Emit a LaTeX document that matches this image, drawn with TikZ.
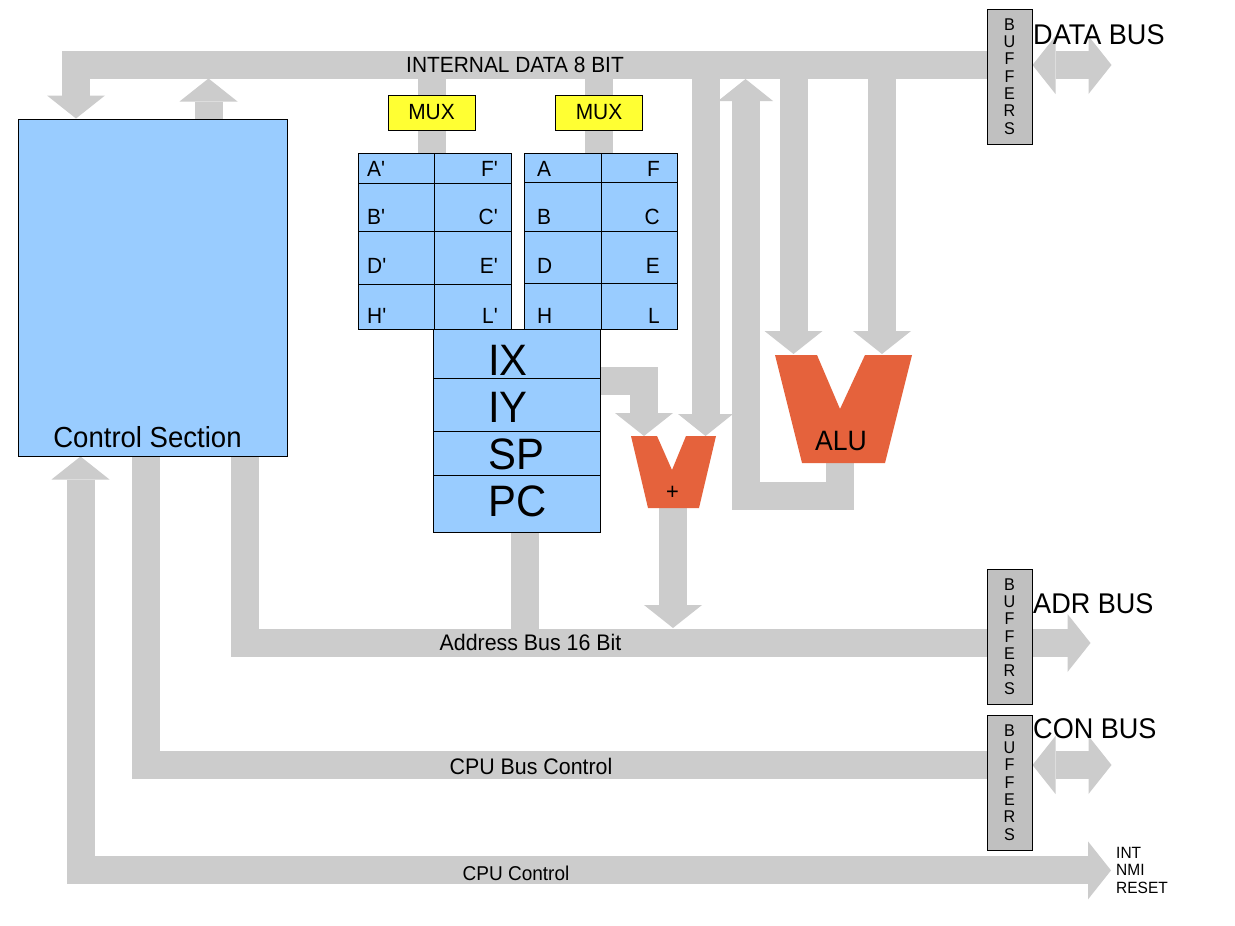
\documentclass[tikz,border=0pt]{standalone}
\usepackage{fontspec}
\newfontfamily\arial{Liberation Sans}[FakeStretch=0.95]
\usetikzlibrary{arrows.meta,positioning,backgrounds}

\definecolor{pipegray}{HTML}{CCCCCC}
\definecolor{regblue}{HTML}{99CCFF}
\definecolor{muxyellow}{HTML}{FFFF33}
\definecolor{unitorange}{HTML}{E5623C}
\definecolor{bufgray}{HTML}{C0C0C0}

\newcommand{\fsz}[2]{\arial\fontsize{#1}{#2}\selectfont}

\begin{document}
\begin{tikzpicture}[
  x=1pt, y=-1pt,
  fat/.tip={Triangle[length=23pt, width=58pt, line width=0pt]},
  fatn/.tip={Triangle[length=22pt, width=55pt, line width=0pt]},
  pipe/.style={draw=pipegray, line width=28pt},
  cell/.style={draw, fill=regblue, line width=1pt, inner sep=0pt},
  reglbl/.style={font=\fsz{22}{22}, inner sep=0pt},
  bigreg/.style={font=\fsz{44}{44}, inner sep=0pt, anchor=base west},
  mux/.style={draw, fill=muxyellow, line width=1pt, minimum width=87,
              minimum height=35, inner sep=0pt, font=\fsz{22}{22}},
  buffer/.style={draw, fill=bufgray, line width=1pt, minimum width=45,
                 minimum height=135, inner sep=0pt, align=center,
                 font=\fsz{17}{17.3}},
  buslbl/.style={font=\fsz{28.5}{28.5}, inner sep=0pt, anchor=base west},
  pipelbl/.style={inner sep=0pt},
  unit/.style={fill=unitorange},
]
  \useasboundingbox (0,0) rectangle (1235,926);

  % bus axes and free ends
  \coordinate (ibus) at (0,65);
  \coordinate (ibuslow) at (0,79);
  \coordinate (abus) at (0,643);
  \coordinate (bbus) at (0,765);
  \coordinate (fbk) at (745.5,496);

  \node[cell, minimum width=269, minimum height=337] (ctrl) at (152.5,287.5) {};
  \node[font=\fsz{29}{29}, inner sep=0pt, anchor=base] (ctrltxt)
    at (147.5,447) {Control Section};

  \node[mux] (muxL) at (431.5,112.5) {MUX};
  \node[mux] (muxR) at (599,112.5) {MUX};

  % shadow register set
  \foreach \regl/\regr/\ya/\yb/\yt [count=\i] in
      {A'/F'/153/183/176, B'/C'/183/231/224, D'/E'/231/284/273, H'/L'/284/329/323}{
    \node[cell, minimum width=76, minimum height=\yb-\ya] (sl\i) at (396,{(\ya+\yb)/2}) {};
    \node[cell, minimum width=77, minimum height=\yb-\ya] (sr\i) at (472.5,{(\ya+\yb)/2}) {};
    \node[reglbl, anchor=base west] (slt\i) at (367,\yt) {\regl};
    \node[reglbl, anchor=base east] (srt\i) at (498,\yt) {\regr};
  }
  % main register set
  \foreach \regl/\regr/\ya/\yb/\yt [count=\i] in
      {A/F/153/182/176, B/C/182/231/224, D/E/231/283/273, H/L/283/329/323}{
    \node[cell, minimum width=77, minimum height=\yb-\ya] (ml\i) at (562.5,{(\ya+\yb)/2}) {};
    \node[cell, minimum width=76, minimum height=\yb-\ya] (mr\i) at (639,{(\ya+\yb)/2}) {};
    \node[reglbl, anchor=base west] (mlt\i) at (537,\yt) {\regl};
    \node[reglbl, anchor=base east] (mrt\i) at (660,\yt) {\regr};
  }
  % 16 bit registers
  \foreach \nm/\txt/\ya/\yb/\yt in
      {ix/IX/329/378/375, iy/IY/378/431/422, sp/SP/431/475/469, pc/PC/475/532/516}{
    \node[cell, minimum width=167, minimum height=\yb-\ya] (\nm) at (516.5,{(\ya+\yb)/2}) {};
    \node[bigreg] (\nm-txt) at (488,\yt) {\txt};
  }

  % ALU
  \fill[unit] (775,355) -- (817,355) -- (840,409) -- (865,355) -- (912,355)
    -- (885,463) -- (802,463) -- cycle;
  \node[font=\fsz{28}{28}, inner sep=0pt, anchor=base] (alu) at (841,450) {ALU};
  \coordinate (aluL) at (793.5,354);
  \coordinate (aluR) at (882,354);
  \coordinate (aluout) at (840,463);

  % address adder
  \fill[unit] (631,436) -- (657,436) -- (672,470) -- (686,436) -- (716,436)
    -- (699,508) -- (648,508) -- cycle;
  \node[font=\fsz{23}{23}, inner sep=0pt] (add) at (672.5,493) {+};
  \coordinate (addL) at (644,436);
  \coordinate (addR) at (705.5,436);
  \coordinate (addout) at (673,508);

  \foreach \nm/\y in {bufD/76.5, bufA/636.5, bufC/782.5}
    \node[buffer] (\nm) at (1009.5,\y) {B\\U\\F\\F\\E\\R\\S};
  \node[buslbl] (dbus) at (1033,45) {DATA BUS};
  \node[buslbl] (adrbus) at (1033,613) {ADR BUS};
  \node[buslbl] (conbus) at (1033,738) {CON BUS};
  \node[font=\fsz{16.3}{17.5}, align=left, inner sep=0pt, anchor=north west]
    (sig) at (1116,847) {INT\\NMI\\RESET};

  \node[pipelbl, font=\fsz{22}{22}] (ibuslbl) at (515,65) {INTERNAL DATA 8 BIT};
  \node[pipelbl, font=\fsz{22.5}{22.5}] (abuslbl) at (530.5,642) {Address Bus 16 Bit};
  \node[pipelbl, font=\fsz{22.5}{22.5}] (bbuslbl) at (531,766) {CPU Bus Control};
  \node[pipelbl, font=\fsz{20}{20}] (cbuslbl) at (516,873) {CPU Control};

  \begin{scope}[on background layer]
    \fill[white] (0,0) rectangle (1235,926);
    % internal data bus
    \draw[pipe, -fat] (bufD.west |- ibus) -| ([xshift=58.5pt]ctrl.north west);
    \draw[pipe, -fat] ([xshift=191pt]ctrl.north west) -- ++(0,-40);
    \draw[pipe] (muxL |- ibus) -- (muxL |- sl1.north);
    \draw[pipe] (muxR |- ibus) -- (muxR |- ml1.north);
    \draw[pipe, -fatn] (addR |- ibus) -- (addR);
    \draw[pipe, -fat] (aluL |- ibus) -- (aluL);
    \draw[pipe, -fat] (aluR |- ibus) -- (aluR);
    \draw[pipe, -fatn] (aluout) |- (fbk) -- (fbk |- ibuslow);
    \draw[pipe, fat-fat] (bufD.east |- ibus) -- ++(79,0);
    % address path
    \draw[pipe, -fat] ([yshift=-27pt]ix.east) -| (addL);
    \draw[pipe, -fat] (addout) -- ++(0,120);
    \draw[pipe] ([xshift=-43pt]ctrl.south east) |- (bufA.west |- abus);
    \draw[pipe] ([xshift=8.5pt]pc.south) -- ++(0,111);
    \draw[pipe, -fat] (bufA.east |- abus) -- ++(58,0);
    % control lines
    \draw[pipe] ([xshift=128.5pt]ctrl.south west) |- (bufC.west |- bbus);
    \draw[pipe, fat-fat] (bufC.east |- bbus) -- ++(79,0);
    \draw[pipe, fat-fat] ([xshift=63pt]ctrl.south west) |- ([xshift=-5pt]sig.west);
  \end{scope}
\end{tikzpicture}
\end{document}
